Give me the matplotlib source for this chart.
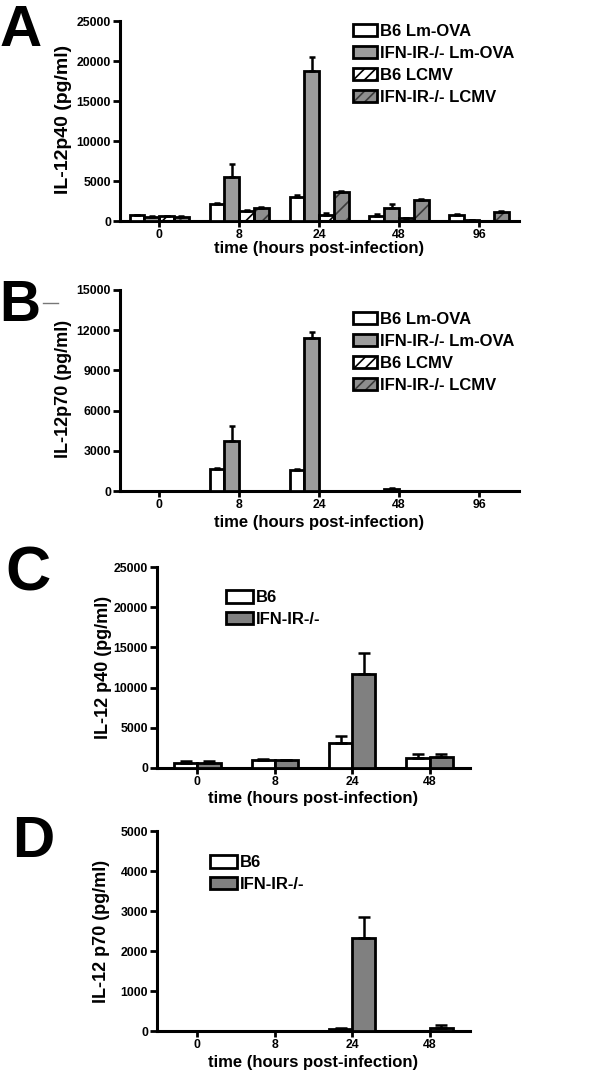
import matplotlib.pyplot as plt
from matplotlib.patches import Patch
from matplotlib.legend_handler import HandlerTuple
from matplotlib.lines import Line2D
import numpy as np

plt.rcParams['font.family'] = ['Liberation Sans', 'DejaVu Sans']
plt.rcParams['font.weight'] = 'bold'
plt.rcParams['axes.labelweight'] = 'bold'
plt.rcParams['hatch.linewidth'] = 1.2

W, H = 600, 1074

# A / B : Lm-OVA vs LCMV infection
times_ab = ['0', '8', '24', '48', '96']
a_b6_lm = [710, 2080, 3040, 600, 800]
a_b6_lm_err = [60, 120, 250, 300, 80]
a_ko_lm = [540, 5540, 18750, 1670, 100]
a_ko_lm_err = [60, 1540, 1750, 400, 50]
a_b6_lcmv = [620, 1250, 790, 350, 40]
a_b6_lcmv_err = [60, 120, 200, 60, 0]
a_ko_lcmv = [540, 1670, 3620, 2630, 1150]
a_ko_lcmv_err = [60, 120, 130, 150, 100]

b_b6_lm = [0, 1630, 1550, 0, 0]
b_b6_lm_err = [0, 80, 70, 0, 0]
b_ko_lm = [0, 3700, 11450, 150, 0]
b_ko_lm_err = [0, 1150, 400, 80, 0]
b_b6_lcmv = [0, 0, 0, 0, 0]
b_b6_lcmv_err = [0, 0, 0, 0, 0]
b_ko_lcmv = [0, 0, 0, 0, 0]
b_ko_lcmv_err = [0, 0, 0, 0, 0]

# C / D : B6 vs IFN-IR-/-
times_cd = ['0', '8', '24', '48']
c_b6 = [620, 1040, 3100, 1250]
c_b6_err = [250, 100, 900, 500]
c_ko = [620, 950, 11700, 1370]
c_ko_err = [250, 80, 2600, 380]

d_b6 = [0, 0, 40, 10]
d_b6_err = [0, 0, 30, 0]
d_ko = [0, 0, 2320, 70]
d_ko_err = [0, 0, 540, 80]

labels_ab = ['B6 Lm-OVA', 'IFN-IR-/- Lm-OVA', 'B6 LCMV', 'IFN-IR-/- LCMV']
labels_cd = ['B6', 'IFN-IR-/-']

GRAY_AB = '#9c9c9c'
GRAY_CD = '#808080'
HATCH_GRAY = '#8e8e8e'

fig = plt.figure(figsize=(W / 100, H / 100), dpi=100)


def px_axes(left, right, top, bottom):
    return fig.add_axes([left / W, 1 - bottom / H, (right - left) / W, (bottom - top) / H])


def draw_bars(ax, x, vals, errs, w, fill, hatch=None, hatch_col='black', cap=2.5):
    vals = np.array(vals, dtype=float)
    errs = np.array(errs, dtype=float)
    if hatch:
        ax.bar(x, vals, w, color=fill, edgecolor=hatch_col, hatch=hatch, linewidth=0, zorder=2)
        ax.bar(x, vals, w, color='none', edgecolor='black', linewidth=2, zorder=3)
    else:
        ax.bar(x, vals, w, color=fill, edgecolor='black', linewidth=2, zorder=3)
    m = errs > 0
    ax.errorbar(np.asarray(x)[m], vals[m], yerr=[np.zeros(m.sum()), errs[m]], fmt='none',
                ecolor='black', elinewidth=1.8, capsize=cap, capthick=1.8, zorder=4)


def style_axis(ax, ymax, ystep, ncat, xlim):
    ax.set_ylim(0, ymax)
    ax.set_yticks(np.arange(0, ymax + 1, ystep))
    ax.set_xlim(*xlim)
    ax.set_xticks(range(ncat))
    for s in ['top', 'right']:
        ax.spines[s].set_visible(False)
    for s in ['left', 'bottom']:
        ax.spines[s].set_linewidth(2.2)
    ax.tick_params(axis='y', width=2, length=5, labelsize=8.8, pad=1.5)
    ax.tick_params(axis='x', width=2, length=4, labelsize=8.8, pad=2)


def hatch_handle(fill, hcol):
    return (Patch(facecolor=fill, edgecolor=hcol, hatch='///', linewidth=0),
            Patch(facecolor='none', edgecolor='black', linewidth=2))


def add_legend(ax, handles, labels, x, y, hl, hh, sp):
    ax.legend(handles, labels, loc='upper left', bbox_to_anchor=(x / W, 1 - y / H),
              bbox_transform=fig.transFigure, frameon=False, fontsize=12,
              handlelength=hl, handleheight=hh, handletextpad=0.2, labelspacing=sp,
              borderpad=0, borderaxespad=0,
              handler_map={tuple: HandlerTuple(ndivide=1, pad=0)})


def panel_letter(s, x, y, size=40):
    fig.text(x / W, 1 - y / H, s, fontsize=size, fontweight='bold', ha='center', va='center')


# ---------- A and B ----------
bw = 0.185
offs = (np.arange(4) - 1.5) * bw
xa = np.arange(len(times_ab))
handles_ab = [Patch(facecolor='white', edgecolor='black', linewidth=2),
              Patch(facecolor=GRAY_AB, edgecolor='black', linewidth=2),
              hatch_handle('white', 'black'),
              hatch_handle(HATCH_GRAY, '#3a3a3a')]

for (top, bot, ymax, ystep, data, ylab, ylfs, lab_y, leg_y) in [
        (21, 221, 25000, 5000,
         [(a_b6_lm, a_b6_lm_err), (a_ko_lm, a_ko_lm_err), (a_b6_lcmv, a_b6_lcmv_err), (a_ko_lcmv, a_ko_lcmv_err)],
         'IL-12p40 (pg/ml)', 14, 249, 24),
        (290, 491, 15000, 3000,
         [(b_b6_lm, b_b6_lm_err), (b_ko_lm, b_ko_lm_err), (b_b6_lcmv, b_b6_lcmv_err), (b_ko_lcmv, b_ko_lcmv_err)],
         'IL-12p70 (pg/ml)', 13, 522, 312)]:
    ax = px_axes(120, 519, top, bot)
    draw_bars(ax, xa + offs[0], *data[0], bw, 'white')
    draw_bars(ax, xa + offs[1], *data[1], bw, GRAY_AB)
    draw_bars(ax, xa + offs[2], *data[2], bw, 'white', hatch='//', hatch_col='black')
    draw_bars(ax, xa + offs[3], *data[3], bw, HATCH_GRAY, hatch='//', hatch_col='#3a3a3a')
    style_axis(ax, ymax, ystep, len(times_ab), (-0.49, 4.5))
    ax.set_xticklabels(times_ab)
    ax.set_xlabel('time (hours post-infection)', fontsize=12, va='center')
    ax.xaxis.set_label_coords(0.5, (bot - lab_y) / (bot - top))
    ax.set_ylabel(ylab, fontsize=ylfs, va='center')
    ax.yaxis.set_label_coords((64 - 120) / 399, 0.51)
    add_legend(ax, handles_ab, labels_ab, 353, leg_y, 1.45, 0.75, 0.42)

panel_letter('A', 21, 31, 42)
panel_letter('B', 20, 306, 41)
fig.add_artist(Line2D([43 / W, 58 / W], [1 - 303 / H, 1 - 303 / H], color='#777777', lw=1))

# ---------- C and D ----------
bw2 = 0.30
xc = np.arange(len(times_cd))
handles_cd = [Patch(facecolor='white', edgecolor='black', linewidth=2),
              Patch(facecolor=GRAY_CD, edgecolor='black', linewidth=2)]

for (top, bot, ymax, ystep, b6, b6e, ko, koe, ylab, lab_y, leg_x, leg_y, ylx) in [
        (567, 768, 25000, 5000, c_b6, c_b6_err, c_ko, c_ko_err, 'IL-12 p40 (pg/ml)', 799, 226, 590, 104),
        (831, 1031, 5000, 1000, d_b6, d_b6_err, d_ko, d_ko_err, 'IL-12 p70 (pg/ml)', 1063, 210, 855, 101)]:
    ax = px_axes(157, 470, top, bot)
    draw_bars(ax, xc - bw2 / 2, b6, b6e, bw2, 'white', cap=4.5)
    draw_bars(ax, xc + bw2 / 2, ko, koe, bw2, GRAY_CD, cap=4.5)
    style_axis(ax, ymax, ystep, len(times_cd), (-0.52, 3.52))
    ax.set_xticklabels(times_cd)
    ax.set_xlabel('time (hours post-infection)', fontsize=12, va='center')
    ax.xaxis.set_label_coords(0.5, (bot - lab_y) / (bot - top))
    ax.set_ylabel(ylab, fontsize=13, va='center')
    ax.yaxis.set_label_coords((ylx - 157) / 313, 0.5)
    add_legend(ax, handles_cd, labels_cd, leg_x, leg_y, 1.6, 0.8, 0.38)

panel_letter('C', 28, 574, 45)
panel_letter('D', 33, 842, 42)

fig.savefig('out.png', dpi=100)
